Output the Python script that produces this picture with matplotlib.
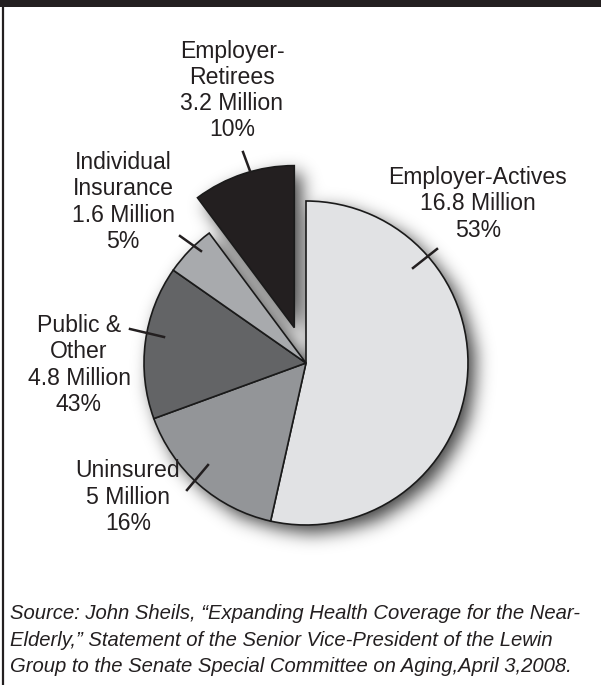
import numpy as np
import matplotlib
matplotlib.use("Agg")
import matplotlib.pyplot as plt
from matplotlib.patches import Rectangle
from matplotlib.lines import Line2D

# Near-elderly coverage (millions), clockwise from 12 o'clock
categories = ["Employer-Actives", "Uninsured", "Public & Other",
              "Individual Insurance", "Employer-Retirees"]
millions = [16.8, 5.0, 4.8, 1.6, 3.2]
label_texts = [
    "Employer-Actives\n16.8 Million\n53%",
    "Uninsured\n5 Million\n16%",
    "Public &\nOther\n4.8 Million\n43%",
    "Individual\nInsurance\n1.6 Million\n5%",
    "Employer-\nRetirees\n3.2 Million\n10%",
]
colors = ["#e1e2e4", "#939598", "#636466", "#a8aaad", "#231f20"]
explode = [0, 0, 0, 0, 0.23]
source = ("Source: John Sheils, \u201cExpanding Health Coverage for the Near-\n"
          "Elderly,\u201d Statement of the Senior Vice-President of the Lewin\n"
          "Group to the Senate Special Committee on Aging,April 3,2008.")

W, H = 601, 685
fig = plt.figure(figsize=(W / 100, H / 100), dpi=100)
fig.patch.set_facecolor("white")


def fx(x):
    return x / W


def fy(y):
    return 1 - y / H


# frame: dark band on top, rule on the left
fig.add_artist(Rectangle((0, fy(7)), 1, 7 / H, transform=fig.transFigure,
                         facecolor="#231f20", edgecolor="none"))
fig.add_artist(Line2D([fx(3), fx(3)], [fy(7), 0], transform=fig.transFigure,
                      color="#231f20", lw=1.6))

# pie axes: centre (306, 363) px, radius 162 px, limits +-1.4
cx, cy, R = 306, 363, 162
L = 1.4
half = R * L
ax = fig.add_axes([fx(cx - half), fy(cy + half), 2 * half / W, 2 * half / H])

wedges, _ = ax.pie(millions, colors=colors, explode=explode, startangle=90,
                   counterclock=False, radius=1.0,
                   wedgeprops=dict(edgecolor="#1a1a1a", linewidth=1.2))
for w in wedges:
    w.set_zorder(3)

# soft drop shadow built from the wedge outlines
n = 500
g = np.linspace(-L, L, n)
X, Y = np.meshgrid(g, g)
mask = np.zeros_like(X, dtype=bool)
off = np.array([0.045, -0.045])
pts = np.column_stack([X.ravel() - off[0], Y.ravel() - off[1]])
for w in wedges:
    path = w.get_path().transformed(w.get_patch_transform())
    mask |= path.contains_points(pts).reshape(X.shape)
sig = 0.055 / (2 * L / n)
k = np.arange(-int(4 * sig), int(4 * sig) + 1)
kern = np.exp(-0.5 * (k / sig) ** 2)
kern /= kern.sum()
blur = mask.astype(float)
blur = np.apply_along_axis(lambda r: np.convolve(r, kern, mode="same"), 1, blur)
blur = np.apply_along_axis(lambda c: np.convolve(c, kern, mode="same"), 0, blur)
rgba = np.zeros((n, n, 4))
rgba[..., 3] = 0.75 * blur
ax.imshow(rgba, extent=(-L, L, -L, L), origin="lower", zorder=1,
          interpolation="bilinear")
ax.set_xlim(-L, L)
ax.set_ylim(-L, L)
ax.set_aspect("equal")
ax.axis("off")

# category labels
font = "Liberation Sans"
label_pos = [(478, 204), (128, 497), (79, 365), (123, 202), (232, 90.5)]
for txt, (x, y) in zip(label_texts, label_pos):
    fig.text(fx(x), fy(y), txt, ha="center", va="center", fontsize=16.6,
             family=font, color="#231f20", linespacing=1.17)

# leader lines
leaders = [((413, 268), (437, 249)), ((187, 490), (208, 465)),
           ((130, 329), (164, 337)), ((180, 236), (201, 251)),
           ((243, 152), (250, 171))]
for (x0, y0), (x1, y1) in leaders:
    fig.add_artist(Line2D([fx(x0), fx(x1)], [fy(y0), fy(y1)],
                          transform=fig.transFigure, color="#231f20", lw=1.8,
                          zorder=5))

fig.text(fx(10), fy(640), source, ha="left", va="center", fontsize=14.6,
         family=font, style="italic", color="#231f20", linespacing=1.5)

fig.savefig("out.png", dpi=100, facecolor="white")
